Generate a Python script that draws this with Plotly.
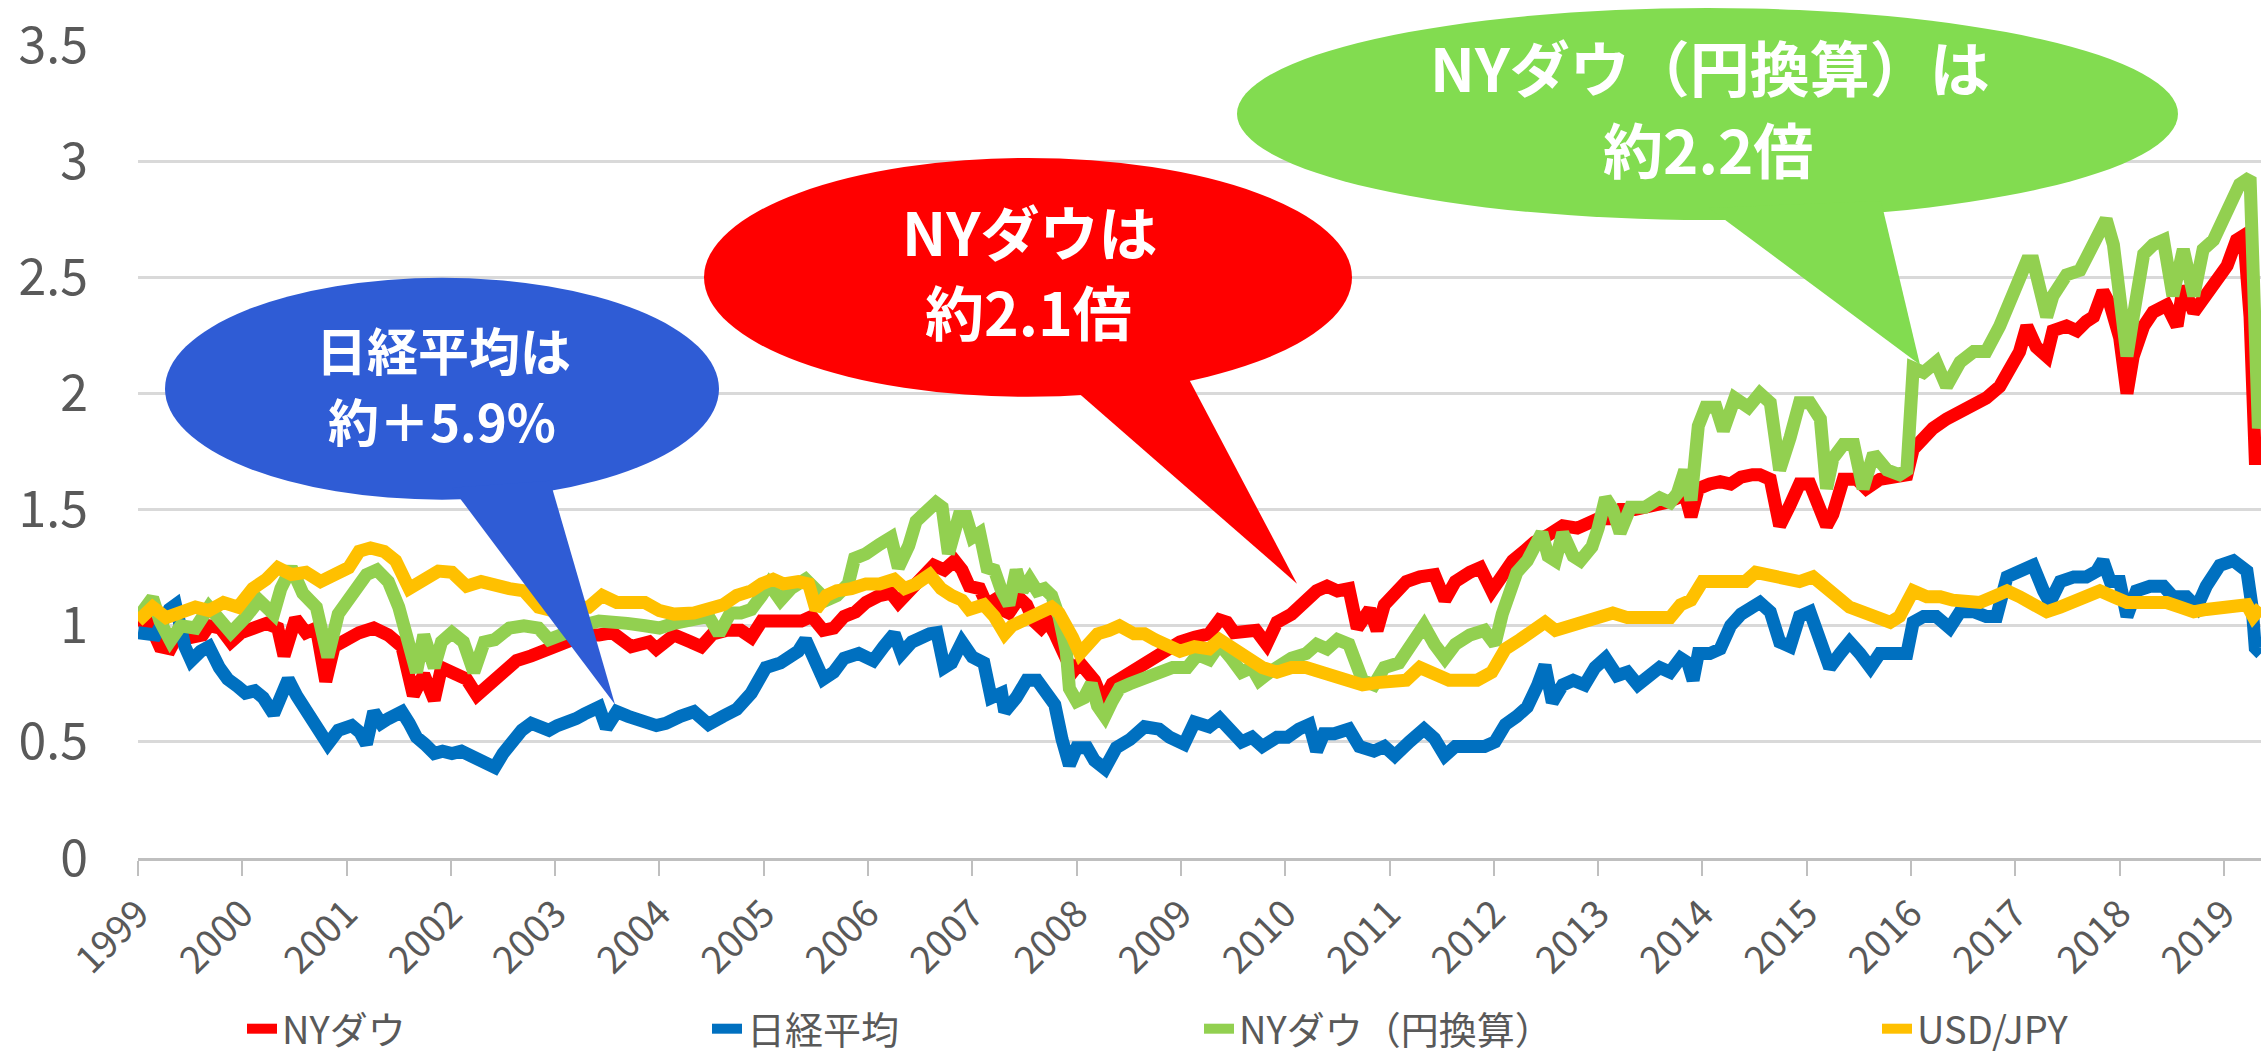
import plotly.graph_objects as go

# ---------------- data (x in axis-label years) ----------------
tick_labels = [str(y) for y in range(1999, 2020)]

dow_x = [1999.00,1999.10,1999.21,1999.31,1999.38,1999.51,1999.62,1999.68,1999.79,1999.89,1999.99,2000.13,2000.23,2000.34,2000.40,2000.51,2000.61,2000.71,2000.80,2000.88,2000.99,2001.12,2001.26,2001.40,2001.53,2001.64,2001.74,2001.84,2001.91,2002.01,2002.15,2002.25,2002.36,2002.49,2002.63,2002.77,2002.94,2003.11,2003.28,2003.42,2003.55,2003.73,2003.90,2003.97,2004.14,
         2004.30,2004.40,2004.51,2004.64,2004.78,2004.88,2004.98,2005.12,2005.26,2005.36,2005.46,2005.57,2005.67,2005.77,2005.88,2005.98,2006.11,2006.22,2006.29,2006.39,2006.53,2006.63,2006.73,2006.83,2006.90,2006.97,2007.07,2007.14,2007.21,2007.28,2007.35,2007.45,2007.52,2007.59,2007.66,2007.72,2007.79,2007.90,2007.96,2008.03,2008.10,2008.17,2008.22,2008.27,2008.34,2008.44,2008.55,2008.65,2008.75,2008.85,2008.99,2009.13,2009.27,
         2009.37,2009.44,2009.51,2009.61,2009.72,2009.82,2009.92,2010.06,2010.20,2010.30,2010.40,2010.50,2010.61,2010.69,2010.81,2010.88,2010.95,2011.05,2011.16,2011.29,2011.43,2011.53,2011.63,2011.77,2011.87,2011.98,2012.08,2012.18,2012.29,2012.39,2012.52,2012.66,2012.80,2012.90,2013.00,2013.11,2013.21,2013.35,2013.48,2013.65,2013.76,2013.83,2013.89,2013.96,2014.07,2014.17,2014.27,2014.37,2014.48,
         2014.55,2014.65,2014.74,2014.84,2014.93,2015.03,2015.13,2015.19,2015.25,2015.35,2015.48,2015.57,2015.70,2015.83,2015.96,2016.02,2016.12,2016.21,2016.34,2016.47,2016.60,2016.72,2016.85,2016.95,2017.04,2017.11,2017.20,2017.30,2017.36,2017.49,2017.59,2017.68,2017.75,2017.84,2017.91,2018.00,2018.07,2018.13,2018.23,2018.32,2018.45,2018.55,2018.61,2018.71,2018.80,2018.90,2019.03,2019.12,2019.19,2019.25,2019.30,2019.355]
dow = [1.00,1.02,0.91,0.90,0.96,0.95,0.96,1.00,0.99,0.93,0.97,1.00,1.01,0.99,0.87,1.03,0.97,0.99,0.76,0.91,0.94,0.97,0.99,0.96,0.91,0.70,0.79,0.68,0.82,0.80,0.77,0.70,0.74,0.80,0.85,0.87,0.90,0.94,0.96,0.96,0.97,0.91,0.93,0.90,0.96,
       0.93,0.91,0.965,0.98,0.98,0.95,1.02,1.02,1.03,1.02,1.04,0.98,0.99,1.04,1.06,1.10,1.13,1.14,1.10,1.15,1.22,1.26,1.24,1.28,1.24,1.17,1.16,1.09,1.11,1.07,1.055,1.12,1.09,1.02,0.99,1.02,0.965,0.84,0.80,0.84,0.80,0.765,0.71,0.69,0.75,0.78,0.80,0.84,0.86,0.90,0.93,0.95,0.965,
       1.025,1.015,0.97,0.97,0.98,0.92,1.015,1.05,1.11,1.15,1.17,1.15,1.16,0.99,1.07,0.98,1.09,1.13,1.19,1.21,1.22,1.11,1.19,1.23,1.25,1.15,1.21,1.28,1.32,1.36,1.39,1.43,1.42,1.44,1.46,1.46,1.50,1.50,1.51,1.53,1.55,1.57,1.47,1.59,1.61,1.62,1.61,1.64,1.65,
       1.65,1.63,1.43,1.52,1.61,1.61,1.50,1.43,1.48,1.63,1.63,1.59,1.63,1.64,1.65,1.76,1.81,1.85,1.89,1.92,1.96,1.98,2.03,2.11,2.18,2.29,2.20,2.16,2.27,2.29,2.27,2.31,2.33,2.44,2.38,2.24,2.00,2.16,2.29,2.35,2.38,2.29,2.46,2.35,2.40,2.46,2.55,2.66,2.68,2.33,1.72,1.72]

nikkei_x = [1999.00,1999.17,1999.30,1999.36,1999.45,1999.51,1999.60,1999.68,1999.78,1999.86,1999.95,2000.03,2000.12,2000.20,2000.30,2000.38,2000.44,2000.52,2000.58,2000.66,2000.71,2000.82,2000.92,2001.05,2001.13,2001.19,2001.26,2001.33,2001.40,2001.53,2001.60,2001.67,2001.75,2001.84,2001.92,2002.01,2002.10,2002.22,2002.32,2002.42,2002.50,2002.60,2002.68,2002.77,2002.85,2002.94,2003.02,2003.11,2003.20,2003.28,2003.36,2003.42,2003.49,2003.59,2003.70,2003.79,2003.88,2003.97,2004.06,2004.14,
            2004.20,2004.33,2004.47,2004.61,2004.74,2004.88,2005.02,2005.16,2005.33,2005.40,2005.50,2005.57,2005.67,2005.77,2005.91,2006.05,2006.15,2006.25,2006.32,2006.42,2006.59,2006.66,2006.73,2006.80,2006.90,2007.00,2007.11,2007.18,2007.28,2007.31,2007.42,2007.52,2007.62,2007.72,2007.79,2007.86,2007.93,2008.00,2008.10,2008.17,2008.27,2008.38,2008.51,2008.65,2008.79,2008.89,2009.03,2009.13,2009.27,
            2009.37,2009.48,2009.58,2009.68,2009.78,2009.92,2010.02,2010.13,2010.23,2010.30,2010.37,2010.47,2010.61,2010.71,2010.85,2010.95,2011.05,2011.19,2011.33,2011.43,2011.53,2011.63,2011.77,2011.91,2012.01,2012.11,2012.22,2012.32,2012.42,2012.49,2012.56,2012.66,2012.76,2012.87,2012.97,2013.07,2013.18,2013.28,2013.38,2013.48,2013.59,2013.69,2013.79,2013.86,2013.91,2013.96,2014.07,2014.17,2014.27,2014.37,2014.48,
            2014.55,2014.65,2014.74,2014.84,2014.93,2015.03,2015.13,2015.22,2015.32,2015.41,2015.51,2015.61,2015.70,2015.83,2015.96,2016.02,2016.12,2016.24,2016.37,2016.47,2016.60,2016.72,2016.82,2016.92,2017.04,2017.17,2017.27,2017.33,2017.43,2017.56,2017.68,2017.78,2017.84,2017.91,2018.00,2018.07,2018.16,2018.29,2018.42,2018.51,2018.64,2018.74,2018.83,2018.96,2019.09,2019.22,2019.27,2019.30,2019.355]
nikkei = [0.97,0.96,1.07,1.09,0.91,0.85,0.89,0.91,0.82,0.77,0.74,0.71,0.72,0.69,0.62,0.70,0.77,0.70,0.66,0.62,0.58,0.49,0.55,0.57,0.54,0.49,0.63,0.58,0.60,0.63,0.58,0.52,0.49,0.45,0.46,0.45,0.46,0.43,0.42,0.39,0.45,0.51,0.55,0.58,0.56,0.55,0.57,0.58,0.60,0.62,0.64,0.65,0.56,0.63,0.61,0.60,0.59,0.57,0.58,0.60,
          0.61,0.63,0.575,0.61,0.64,0.71,0.82,0.84,0.89,0.94,0.85,0.77,0.80,0.86,0.88,0.85,0.91,0.965,0.88,0.93,0.965,0.97,0.82,0.84,0.93,0.865,0.84,0.69,0.71,0.63,0.69,0.765,0.765,0.71,0.66,0.51,0.40,0.475,0.475,0.42,0.385,0.475,0.51,0.565,0.555,0.52,0.49,0.585,0.565,
          0.60,0.555,0.50,0.52,0.48,0.52,0.52,0.555,0.575,0.46,0.535,0.535,0.555,0.48,0.46,0.48,0.44,0.50,0.555,0.515,0.44,0.48,0.48,0.48,0.50,0.575,0.61,0.65,0.745,0.83,0.67,0.745,0.765,0.745,0.82,0.86,0.785,0.80,0.745,0.785,0.82,0.80,0.86,0.84,0.765,0.88,0.88,0.90,1.00,1.05,1.09,
          1.10,1.06,0.93,0.91,1.04,1.06,0.93,0.82,0.88,0.93,0.88,0.82,0.88,0.88,0.88,1.015,1.04,1.04,0.99,1.06,1.06,1.04,1.04,1.21,1.235,1.26,1.15,1.10,1.19,1.21,1.21,1.235,1.28,1.19,1.19,1.04,1.15,1.17,1.17,1.125,1.125,1.08,1.17,1.26,1.28,1.235,1.08,0.905,0.88]

dow_jpy_x = [1999.00,1999.14,1999.21,1999.31,1999.41,1999.55,1999.68,1999.79,1999.89,2000.03,2000.16,2000.30,2000.37,2000.47,2000.58,2000.71,2000.82,2000.92,2001.05,2001.19,2001.29,2001.40,2001.50,2001.60,2001.67,2001.74,2001.84,2001.91,2002.01,2002.12,2002.22,2002.32,2002.42,2002.56,2002.70,2002.84,2002.94,2003.11,2003.25,2003.42,2003.55,2003.69,2003.86,2004.00,2004.14,
             2004.33,2004.47,2004.57,2004.68,2004.78,2004.88,2004.98,2005.05,2005.16,2005.26,2005.40,2005.50,2005.60,2005.70,2005.81,2005.87,2005.98,2006.11,2006.22,2006.29,2006.39,2006.46,2006.56,2006.65,2006.71,2006.77,2006.87,2006.94,2007.00,2007.07,2007.14,2007.21,2007.28,2007.35,2007.42,2007.48,2007.55,2007.62,2007.69,2007.76,2007.83,2007.90,2007.93,2008.00,2008.07,2008.14,2008.20,2008.27,2008.34,2008.41,2008.51,2008.61,2008.72,2008.82,2008.92,2009.06,2009.16,2009.27,
             2009.37,2009.48,2009.58,2009.68,2009.75,2009.85,2009.96,2010.06,2010.20,2010.30,2010.40,2010.50,2010.61,2010.68,2010.74,2010.85,2010.95,2011.09,2011.22,2011.33,2011.43,2011.53,2011.63,2011.77,2011.91,2012.01,2012.08,2012.15,2012.22,2012.32,2012.39,2012.46,2012.52,2012.59,2012.66,2012.76,2012.83,2012.94,2013.00,2013.07,2013.14,2013.21,2013.31,2013.45,2013.59,2013.69,2013.76,2013.83,2013.89,2013.96,2014.03,2014.13,2014.20,2014.31,2014.44,
             2014.55,2014.65,2014.74,2014.84,2014.93,2015.03,2015.13,2015.19,2015.25,2015.35,2015.45,2015.54,2015.64,2015.77,2015.89,2015.96,2016.02,2016.12,2016.24,2016.34,2016.47,2016.60,2016.72,2016.85,2016.98,2017.11,2017.17,2017.24,2017.30,2017.36,2017.49,2017.62,2017.75,2017.87,2017.94,2018.00,2018.07,2018.13,2018.23,2018.32,2018.42,2018.51,2018.61,2018.71,2018.80,2018.90,2019.03,2019.15,2019.25,2019.28,2019.33,2019.355]
dow_jpy = [1.035,1.12,1.02,0.935,1.00,0.99,1.08,1.02,0.97,1.035,1.11,1.05,1.16,1.25,1.14,1.08,0.865,1.05,1.14,1.22,1.24,1.19,1.08,0.93,0.80,0.96,0.82,0.93,0.97,0.93,0.80,0.93,0.94,0.99,1.00,0.99,0.94,0.97,1.00,1.02,1.02,1.01,1.00,0.99,1.01,
           1.02,1.04,0.965,1.055,1.055,1.07,1.13,1.18,1.11,1.16,1.20,1.15,1.11,1.13,1.18,1.29,1.31,1.35,1.38,1.25,1.345,1.45,1.49,1.53,1.51,1.31,1.47,1.47,1.38,1.40,1.25,1.24,1.15,1.09,1.24,1.15,1.20,1.15,1.16,1.13,1.04,0.89,0.73,0.675,0.69,0.75,0.655,0.61,0.675,0.73,0.75,0.765,0.78,0.80,0.82,0.82,0.875,0.855,
           0.92,0.86,0.80,0.82,0.765,0.80,0.84,0.86,0.88,0.92,0.90,0.94,0.92,0.84,0.765,0.745,0.82,0.84,0.92,1.00,0.92,0.86,0.92,0.96,0.98,0.92,1.05,1.15,1.23,1.28,1.34,1.40,1.30,1.28,1.40,1.30,1.28,1.34,1.42,1.55,1.50,1.40,1.51,1.51,1.55,1.53,1.57,1.67,1.54,1.86,1.94,1.94,1.84,1.98,1.94,
           2.00,1.96,1.67,1.81,1.96,1.96,1.89,1.59,1.72,1.78,1.78,1.59,1.74,1.67,1.65,1.67,2.11,2.09,2.135,2.03,2.135,2.18,2.18,2.29,2.44,2.57,2.57,2.44,2.33,2.42,2.51,2.53,2.64,2.75,2.64,2.46,2.16,2.33,2.60,2.64,2.66,2.42,2.62,2.42,2.62,2.66,2.77,2.90,2.93,2.38,1.85,1.94]

usdjpy_x = [1999.00,1999.14,1999.27,1999.41,1999.55,1999.68,1999.82,1999.96,2000.10,2000.23,2000.34,2000.47,2000.61,2000.75,2000.88,2001.02,2001.12,2001.23,2001.36,2001.47,2001.60,2001.74,2001.88,2002.01,2002.15,2002.29,2002.42,2002.56,2002.70,2002.84,2002.97,2003.11,2003.32,2003.45,2003.59,2003.73,2003.86,2004.00,2004.14,
            2004.33,2004.47,2004.61,2004.74,2004.88,2004.98,2005.09,2005.19,2005.33,2005.43,2005.50,2005.60,2005.70,2005.84,2005.98,2006.11,2006.25,2006.35,2006.46,2006.59,2006.70,2006.80,2006.90,2006.97,2007.11,2007.21,2007.31,2007.38,2007.48,2007.59,2007.69,2007.76,2007.83,2007.90,2007.96,2008.03,2008.10,2008.20,2008.31,2008.41,2008.55,2008.65,2008.75,2008.89,2008.99,2009.13,2009.27,
            2009.37,2009.51,2009.65,2009.78,2009.92,2010.06,2010.20,2010.33,2010.47,2010.61,2010.74,2010.88,2011.02,2011.16,2011.29,2011.43,2011.57,2011.70,2011.84,2011.98,2012.11,2012.25,2012.39,2012.49,2012.59,2012.73,2012.87,2013.00,2013.14,2013.28,2013.42,2013.55,2013.69,2013.79,2013.89,2014.00,2014.13,2014.27,2014.41,2014.51,
            2014.68,2014.81,2014.93,2015.06,2015.19,2015.29,2015.41,2015.54,2015.67,2015.80,2015.89,2016.02,2016.15,2016.28,2016.40,2016.53,2016.66,2016.79,2016.92,2017.04,2017.17,2017.30,2017.43,2017.56,2017.68,2017.81,2017.94,2018.07,2018.19,2018.32,2018.45,2018.58,2018.71,2018.83,2018.96,2019.09,2019.22,2019.28,2019.355]
usdjpy = [1.02,1.08,1.035,1.065,1.08,1.065,1.10,1.08,1.16,1.20,1.25,1.22,1.23,1.19,1.22,1.25,1.32,1.335,1.32,1.28,1.16,1.20,1.235,1.23,1.17,1.19,1.17,1.16,1.15,1.08,1.065,1.08,1.08,1.13,1.10,1.10,1.10,1.065,1.05,
          1.055,1.07,1.09,1.13,1.15,1.18,1.20,1.18,1.19,1.18,1.07,1.13,1.15,1.16,1.18,1.18,1.20,1.16,1.18,1.22,1.16,1.13,1.11,1.07,1.09,1.04,0.965,1.00,1.02,1.04,1.055,1.08,1.055,0.98,0.95,0.88,0.91,0.965,0.98,1.00,0.965,0.965,0.94,0.91,0.89,0.91,0.90,
          0.94,0.90,0.86,0.82,0.80,0.82,0.82,0.80,0.785,0.765,0.745,0.755,0.765,0.765,0.82,0.785,0.765,0.765,0.765,0.80,0.90,0.94,0.98,1.015,0.98,1.00,1.015,1.035,1.055,1.035,1.035,1.035,1.035,1.09,1.11,1.19,1.19,1.20,1.19,1.23,
          1.21,1.19,1.19,1.21,1.17,1.125,1.08,1.06,1.04,1.015,1.04,1.15,1.125,1.125,1.11,1.10,1.10,1.125,1.15,1.125,1.10,1.06,1.08,1.10,1.125,1.15,1.125,1.10,1.10,1.10,1.10,1.08,1.06,1.07,1.08,1.08,1.09,1.04,1.08]

series_names = ["NYダウ", "日経平均", "NYダウ（円換算）", "USD/JPY"]
series_colors = ["#FF0000", "#0070C0", "#92D050", "#FFC000"]

callout_lines = [["日経平均は", "約＋5.9%"], ["NYダウは", "約2.1倍"], ["NYダウ（円換算）は", "約2.2倍"]]
callout_colors = ["#2F5CD5", "#FF0000", "#82DC50"]

# ---------------- figure ----------------
W, H = 2261, 1055
ML, MR, MT, MB = 138, 0, 45, 196.5
PW, PH = W - ML - MR, H - MT - MB

def fx(px):
    return (px - ML) / PW

def fy(py):
    return (H - MB - py) / PH

FONT = "Noto Sans CJK JP"

fig = go.Figure()
xs = [dow_x, nikkei_x, dow_jpy_x, usdjpy_x]
ys = [dow, nikkei, dow_jpy, usdjpy]
legend_ids = ["legend", "legend2", "legend3", "legend4"]
for i in range(4):
    fig.add_trace(go.Scatter(
        x=xs[i], y=ys[i], mode="lines", name=series_names[i],
        line=dict(color=series_colors[i], width=13),
        legend=legend_ids[i], showlegend=True))

# callout geometry (pixels)
ellipses = [(165, 278, 719, 500), (704, 158, 1352, 397), (1237, 8, 2178, 220)]
pointers = [[(452, 488), (550, 481), (615, 705)],
            [(1069, 385), (1184, 370), (1297, 584)],
            [(1709, 208), (1881, 201), (1920, 365)]]
text_pos = [[(443, 349, 51), (442, 420, 51)],
            [(1029, 231, 59), (1028, 311, 59)],
            [(1710, 66, 60), (1708, 148, 60)]]

shapes = []
annotations = []
for i in range(3):
    x0, y0, x1, y1 = ellipses[i]
    shapes.append(dict(type="circle", xref="paper", yref="paper",
                       x0=fx(x0), x1=fx(x1), y0=fy(y1), y1=fy(y0),
                       fillcolor=callout_colors[i], line=dict(width=0), layer="above"))
    p = pointers[i]
    path = "M {} {} L {} {} L {} {} Z".format(fx(p[0][0]), fy(p[0][1]), fx(p[1][0]), fy(p[1][1]), fx(p[2][0]), fy(p[2][1]))
    shapes.append(dict(type="path", xref="paper", yref="paper", path=path,
                       fillcolor=callout_colors[i], line=dict(width=0), layer="above"))
    for j, line in enumerate(callout_lines[i]):
        tx, ty, fs = text_pos[i][j]
        annotations.append(dict(xref="paper", yref="paper", x=fx(tx), y=fy(ty),
                                text="<b>" + line + "</b>", showarrow=False,
                                xanchor="center", yanchor="middle",
                                font=dict(family=FONT, size=fs, color="white")))

legend_x_px = [242, 707, 1199, 1877]
legend_common = dict(orientation="h", yanchor="middle", xanchor="left",
                     xref="container", yref="container",
                     font=dict(family=FONT, size=38, color="#595959"),
                     bgcolor="rgba(0,0,0,0)", borderwidth=0)

layout_legends = {}
for i, lid in enumerate(legend_ids):
    layout_legends[lid] = dict(legend_common, x=legend_x_px[i] / W, y=1 - 1029 / H)

fig.update_layout(
    width=W, height=H,
    margin=dict(l=ML, r=MR, t=MT, b=MB, pad=0, autoexpand=False),
    paper_bgcolor="white", plot_bgcolor="white",
    shapes=shapes, annotations=annotations,
    **layout_legends,
)

fig.update_xaxes(range=[1999, 2019.355], tickvals=list(range(1999, 2020)), ticktext=tick_labels,
                 tickangle=-45, ticks="outside", ticklen=15, tickwidth=2, tickcolor="#BFBFBF",
                 showline=True, linecolor="#BFBFBF", linewidth=3, showgrid=False, zeroline=False,
                 automargin=False,
                 tickfont=dict(family=FONT, size=38, color="#595959"))
fig.update_yaxes(range=[0, 3.5], dtick=0.5, tick0=0, showgrid=True, gridcolor="#D9D9D9", gridwidth=3,
                 zeroline=False, showline=False, ticks="", ticklabelstandoff=49, automargin=False,
                 tickfont=dict(family=FONT, size=50, color="#595959"))

fig.write_html("out.html", config={"displayModeBar": False},
               post_script="document.body.style.margin='0';document.body.style.overflow='hidden';")
